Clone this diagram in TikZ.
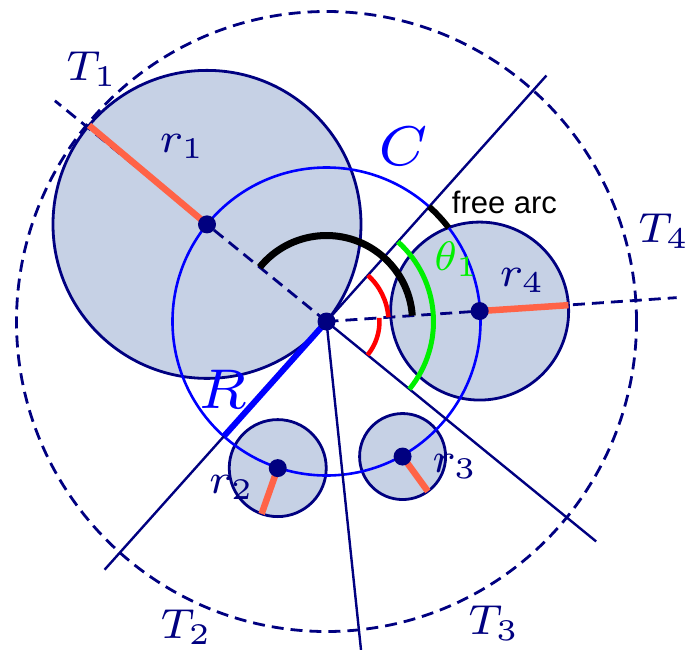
\documentclass[tikz,border=0pt]{standalone}
\usepackage{fontspec}
\newfontfamily\freefont{Liberation Sans}
\definecolor{navyc}{RGB}{0,0,128}
\definecolor{fillc}{RGB}{198,209,229}
\definecolor{tomatoc}{RGB}{255,99,71}
\definecolor{limec}{RGB}{0,240,0}
\definecolor{bluec}{RGB}{0,0,255}
\begin{document}
\begin{tikzpicture}[x=1pt,y=1pt,
  disc/.style={circle, inner sep=0pt, fill=fillc, draw=navyc, line width=2.8pt},
  circC/.style={draw=bluec, line width=2.6pt},
  tline/.style={draw=navyc, line width=2.4pt},
  dline/.style={draw=navyc, line width=2.8pt, dash pattern=on 12pt off 7pt},
  rad/.style={draw=tomatoc, line width=6.5pt},
  Rline/.style={draw=bluec, line width=6pt},
  barc/.style={draw=black, line width=7pt},
  rarc/.style={draw=red, line width=4.5pt},
  garc/.style={draw=limec, line width=5pt},
  dotc/.style={circle, fill=navyc, inner sep=0pt, minimum size=18pt},
  lab/.style={inner sep=0pt, text=navyc, font=\scriptsize, scale=6.0},
  thlab/.style={inner sep=0pt, text=limec, font=\scriptsize, scale=5.9},
  biglab/.style={inner sep=0pt, text=bluec, font=\scriptsize, scale=8.0}]
\useasboundingbox (-326.5,-327.5) rectangle (360.5,321.5);
\coordinate (O) at (0,0);
% outer dashed circle
\draw[dline] (O) circle[radius=310];
% discs
\node[disc, minimum size=308pt] (c1) at (140.9:154) {};
\node[disc, minimum size=178pt] (c4) at (3.9:153.5) {};
\node[disc, minimum size=97pt] (c2) at (251.6:154.5) {};
\node[disc, minimum size=86pt] (c3) at (-60.6:155) {};
% circle C
\draw[circC] (O) circle[radius=154];
% tangent lines
\coordinate (L48a) at (48.2:330);
\coordinate (L48b) at (228.2:333);
\coordinate (L84) at (-84:332);
\coordinate (L39) at (-39.2:348);
\coordinate (T1end) at (140.9:350);
\coordinate (T4end) at (3.9:351);
\draw[tline] (L48b) -- (L48a);
\draw[tline] (O) -- (L84);
\draw[tline] (O) -- (L39);
\draw[dline] (O) -- (T1end);
\draw[dline] (O) -- (T4end);
% radii
\draw[rad] (c1.center) -- ++(140:154);
\draw[rad] (c4.center) -- ++(3.8:89);
\draw[rad] (c2.center) -- ++(250.6:48.5);
\draw[rad] (c3.center) -- ++(-54:43);
\draw[Rline] (O) -- (228.2:154);
% arcs
\draw[barc] (140.9:86) arc[start angle=140.9, end angle=3.9, radius=86];
\draw[rarc] (3.9:62) arc[start angle=3.9, end angle=48.2, radius=62];
\draw[rarc] (-39.2:53) arc[start angle=-39.2, end angle=3.9, radius=53];
\draw[garc] (-39.2:107) arc[start angle=-39.2, end angle=48.2, radius=107];
\draw[barc, line width=6pt] (48.2:154) arc[start angle=48.2, end angle=37.5, radius=154];
% dots
\node[dotc] (d0) at (O) {};
\node[dotc] (d1) at (c1.center) {};
\node[dotc] (d2) at (c2.center) {};
\node[dotc] (d3) at (c3.center) {};
\node[dotc] (d4) at (c4.center) {};
% labels
\node[lab] (t1) at (-234.5,252.5) {$T_1$};
\node[lab] (t2) at (-140.2,-305.5) {$T_2$};
\node[lab] (t3) at (167.5,-301.5) {$T_3$};
\node[lab] (t4) at (337.5,90.5) {$T_4$};
\node[lab] (lr1) at (-144,175.5) {$r_1$};
\node[lab] (lr2) at (-94.8,-166) {$r_2$};
\node[lab] (lr3) at (128.5,-144.5) {$r_3$};
\node[lab] (lr4) at (196,41.5) {$r_4$};
\node[thlab] (lth) at (130.2,62.5) {$\theta_1$};
\node[biglab] (lC) at (76.8,174.8) {$C$};
\node[biglab] (lR) at (-104,-67.5) {$R$};
\node[inner sep=0pt, anchor=base west, font=\freefont\fontsize{31}{31}\selectfont] (fa) at (125.2,108.2) {free arc};
\end{tikzpicture}
\end{document}
